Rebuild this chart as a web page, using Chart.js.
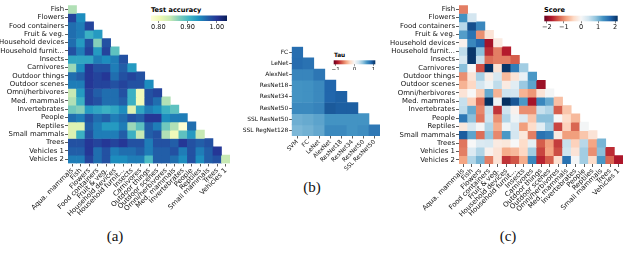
<!DOCTYPE html>
<html><head><meta charset="utf-8">
<script src="https://cdn.jsdelivr.net/npm/chart.js@4.4.1/dist/chart.umd.min.js"></script>
<style>
html,body{margin:0;padding:0;background:#fff}
body{width:640px;height:265px;position:relative;overflow:hidden;font-family:'DejaVu Sans',sans-serif}
canvas{position:absolute}
.cap{position:absolute;font-family:'Liberation Serif',serif;font-size:15px;color:#111;transform:translate(-50%,-50%);white-space:nowrap}
.cbt{position:absolute;font-family:'DejaVu Sans',sans-serif;font-weight:bold;color:#000;white-space:nowrap;line-height:1}
</style></head><body>
<div class="cap" style="left:115px;top:236px">(a)</div>
<div class="cap" style="left:312px;top:187px">(b)</div>
<div class="cap" style="left:508px;top:236px">(c)</div>
<div class="cbt" style="left:151px;top:6.5px;font-size:6.6px">Test accuracy</div>
<div class="cbt" style="left:334px;top:52.5px;font-size:5.8px">Tau</div>
<div class="cbt" style="left:544px;top:6.5px;font-size:6.6px">Score</div>
<script>
// ---------- categories ----------
const superclasses = ['Aqua. mammals','Fish','Flowers','Food containers','Fruit & veg.','Household devices','Household furnit...','Insects','Carnivores','Outdoor things','Outdoor scenes','Omni/herbivores','Med. mammals','Invertebrates','People','Reptiles','Small mammals','Trees','Vehicles 1','Vehicles 2'];
const pairCols = superclasses.slice(0, 19);
const pairRows = superclasses.slice(1);
const models = ['SVM','FC','LeNet','AlexNet','ResNet18','ResNet34','ResNet50','SSL ResNet50','SSL RegNet128'];
const modelCols = models.slice(0, 8);
const modelRows = models.slice(1);

// ---------- (a) test accuracy ----------
const accuracy = [
  [0.85],
  [0.99,0.94],
  [0.96,0.95,0.99],
  [0.96,0.95,0.91,0.93],
  [0.96,0.93,0.98,0.87,0.98],
  [0.98,0.95,0.99,0.93,0.99,0.89],
  [0.92,0.92,0.92,0.95,0.94,0.95,0.98],
  [0.86,0.94,1.00,0.98,0.98,0.95,0.97,0.93],
  [0.96,0.97,1.00,0.99,1.00,0.96,0.98,0.99,0.98],
  [0.95,0.95,1.00,0.99,0.99,0.98,0.99,0.98,0.98,0.94],
  [0.84,0.93,0.99,0.97,0.96,0.96,0.98,0.91,0.80,0.98,0.99],
  [0.85,0.91,0.99,0.98,0.96,0.96,0.97,0.91,0.80,0.98,0.96,0.85],
  [0.88,0.87,0.93,0.92,0.91,0.92,0.94,0.82,0.92,0.95,0.94,0.91,0.89],
  [0.96,0.95,0.98,0.96,0.97,0.95,0.96,0.98,0.97,1.00,1.00,0.94,0.95,0.95],
  [0.82,0.82,0.97,0.95,0.93,0.93,0.95,0.86,0.89,0.97,0.95,0.88,0.85,0.78,0.96],
  [0.82,0.91,0.98,0.95,0.95,0.95,0.97,0.91,0.84,0.97,0.98,0.85,0.80,0.89,0.93,0.84],
  [0.98,0.98,1.00,0.99,1.00,0.99,1.00,0.98,0.98,0.95,0.98,0.98,0.97,1.00,0.98,0.97,0.98],
  [0.97,0.97,1.00,0.96,0.98,0.95,0.96,0.96,0.97,0.95,0.97,0.97,0.98,0.95,0.98,0.95,0.97,1.00],
  [0.95,0.95,0.99,0.96,0.98,0.94,0.94,0.95,0.95,0.90,0.97,0.97,0.96,0.94,0.98,0.94,0.97,0.98,0.84]
];
const accRange = [0.775, 1.035];
const accTicks = [0.80, 0.90, 1.00];

// ---------- (b) Kendall tau ----------
const tau = [
  [0.84],
  [0.85,0.82],
  [0.73,0.73,0.80],
  [0.66,0.67,0.71,0.88],
  [0.66,0.67,0.71,0.88,0.90],
  [0.71,0.71,0.74,0.93,0.91,0.91],
  [0.54,0.56,0.59,0.66,0.66,0.66,0.66],
  [0.50,0.53,0.57,0.71,0.71,0.66,0.69,0.79]
];
const tauRange = [-1.1, 1.1];
const tauTicks = [-1, 0, 1];

// ---------- (c) score ----------
const score = [
  [-1.1],
  [1.3,0.4],
  [0.6,1.9,1.4],
  [1.2,1.6,-1.0,-0.3],
  [-0.1,1.4,1.7,-1.8,-0.2],
  [0.55,2.1,0.9,-1.6,-1.1,-1.7],
  [0.35,2.1,0.5,-1.2,-1.1,-1.1,-1.3],
  [0.9,0.0,-1.4,2.15,-0.3,2.1,1.5,0.75],
  [-1.0,-0.3,0.7,-0.15,0.35,-0.7,-0.3,0.15,1.25],
  [-0.75,-0.45,0.4,0.1,0.55,-0.2,0.25,0.8,1.15,-1.85],
  [-0.3,0.0,-0.55,1.1,-0.75,0.45,0.4,-0.75,-0.95,-0.3,0.05],
  [0.5,-0.5,-1.2,2.15,0.1,2.15,1.85,1.25,-1.8,1.4,1.1,-0.65],
  [0.55,1.1,-1.05,0.5,-1.55,0.45,-0.1,-1.0,-1.0,0.5,0.65,-1.3,-0.6],
  [1.55,0.9,-1.15,0.45,-1.0,0.65,0.1,0.3,-0.6,0.9,0.9,0.0,-0.4,-0.7],
  [-0.25,0.35,0.05,0.65,-0.8,0.1,0.35,-0.9,-0.4,0.25,0.75,-1.45,-0.5,-1.25,0.05],
  [1.8,1.15,-1.2,0.85,-1.05,1.25,0.4,-0.25,-1.1,1.6,1.5,-0.2,-0.9,-0.9,-0.6,-0.3],
  [-1.15,0.0,0.3,0.35,-0.2,-0.25,0.0,-0.4,0.2,-1.3,-0.9,-1.5,0.5,-0.5,0.6,-0.85,1.0],
  [-1.1,0.3,0.65,-0.1,-0.3,-0.8,-0.7,-0.45,0.75,-1.45,-0.85,-1.4,0.45,-0.3,0.75,-1.0,0.9,-1.6],
  [-0.85,0.65,1.0,-1.1,-0.3,-1.55,-1.35,-0.8,1.4,-1.65,-1.3,-0.35,1.6,0.05,0.75,-0.4,1.25,-1.25,-1.75]
];
const scoreRange = [-2.15, 2.15];
const scoreTicks = [-2, -1, 0, 1, 2];

// ---------- colormaps ----------
const YlGnBu = ['#ffffd9','#edf8b1','#c7e9b4','#7fcdbb','#41b6c4','#1d91c0','#225ea8','#253494','#081d58'];
const RdBu = ['#67001f','#b2182b','#d6604d','#f4a582','#fddbc7','#f7f7f7','#d1e5f0','#92c5de','#4393c3','#2166ac','#053061'];
function hexRgb(h){ return [parseInt(h.slice(1,3),16), parseInt(h.slice(3,5),16), parseInt(h.slice(5,7),16)]; }
function cmapColor(stops, t){
  t = Math.max(0, Math.min(1, t));
  const n = stops.length - 1;
  const i = Math.min(n - 1, Math.floor(t * n));
  const f = t * n - i;
  const a = hexRgb(stops[i]), b = hexRgb(stops[i + 1]);
  const c = a.map((v, k) => Math.round(v + (b[k] - v) * f));
  return `rgb(${c[0]},${c[1]},${c[2]})`;
}

Chart.defaults.font.family = "'DejaVu Sans', sans-serif";
Chart.defaults.color = '#111';

function makeCanvas(left, top, w, h){
  const c = document.createElement('canvas');
  c.width = w; c.height = h;
  c.style.left = left + 'px'; c.style.top = top + 'px';
  c.style.width = w + 'px'; c.style.height = h + 'px';
  document.body.appendChild(c);
  return c;
}

function heatmap(box, cols, rows, values, cmap, range, o){
  const cv = makeCanvas(box[0], box[1], box[2], box[3]);
  const datasets = rows.map((r, i) => ({
    label: r,
    data: cols.map((c, j) => j < values[i].length ? [i - 0.5, i + 0.5] : null),
    backgroundColor: cols.map((c, j) => j < values[i].length ? cmapColor(cmap, (values[i][j] - range[0]) / (range[1] - range[0])) : 'rgba(0,0,0,0)'),
    borderWidth: 0,
    borderSkipped: false,
    barPercentage: 1,
    categoryPercentage: 1,
    grouped: false
  }));
  new Chart(cv, {
    type: 'bar',
    data: { labels: cols, datasets },
    options: {
      responsive: false, animation: false, devicePixelRatio: 1,
      layout: { padding: o.pad },
      plugins: { legend: { display: false }, tooltip: { enabled: false } },
      scales: {
        x: {
          type: 'category', offset: true,
          afterFit: s => { s.height = o.xh; },
          ticks: { autoSkip: false, minRotation: 45, maxRotation: 45, padding: 0, font: { size: o.fs }, color: '#111' },
          grid: { offset: false, drawOnChartArea: false, drawTicks: true, tickLength: o.tl, color: '#333', lineWidth: 0.8 },
          border: { display: false }
        },
        y: {
          type: 'linear', reverse: true, min: -0.5, max: rows.length - 0.5,
          afterBuildTicks: s => { s.ticks = rows.map((r, i) => ({ value: i })); },
          afterFit: s => { s.width = o.yw; },
          ticks: { autoSkip: false, padding: 1, font: { size: o.fs }, color: '#111', callback: v => rows[v] },
          grid: { drawOnChartArea: false, drawTicks: true, tickLength: o.tl, color: '#333', lineWidth: 0.8 },
          border: { display: false }
        }
      }
    }
  });
}

function colorbar(box, cmap, range, ticks, fmt, o){
  const cv = makeCanvas(box[0], box[1], box[2], box[3]);
  new Chart(cv, {
    type: 'scatter',
    data: { datasets: [{ data: [] }] },
    options: {
      responsive: false, animation: false, devicePixelRatio: 1,
      layout: { padding: o.pad },
      plugins: { legend: { display: false }, tooltip: { enabled: false } },
      scales: {
        x: {
          type: 'linear', min: range[0], max: range[1],
          afterBuildTicks: s => { s.ticks = ticks.map(v => ({ value: v })); },
          afterFit: s => { s.height = o.xh; },
          ticks: { padding: 0, font: { size: o.fs }, color: '#111', callback: fmt },
          grid: { drawOnChartArea: false, drawTicks: true, tickLength: o.tl, color: '#333', lineWidth: 0.6 },
          border: { display: false }
        },
        y: { display: false, min: 0, max: 1 }
      }
    },
    plugins: [{
      id: 'gradientBar',
      beforeDatasetsDraw(chart){
        const a = chart.chartArea, ctx = chart.ctx;
        const g = ctx.createLinearGradient(a.left, 0, a.right, 0);
        cmap.forEach((c, i) => g.addColorStop(i / (cmap.length - 1), c));
        ctx.save(); ctx.fillStyle = g; ctx.fillRect(a.left, a.top, a.right - a.left, a.bottom - a.top); ctx.restore();
      }
    }]
  });
}

const minus = v => (v < 0 ? '\u2212' + Math.abs(v) : String(v));

heatmap([0, 0, 232, 232], pairCols, pairRows, accuracy, YlGnBu, accRange,
  { pad: { top: 0.5, right: 2, left: 0, bottom: 0 }, xh: 68.5, yw: 68, fs: 6.9, tl: 3 });
heatmap([240, 40, 140, 132], modelCols, modelRows, tau, RdBu, tauRange,
  { pad: { top: 6.7, right: 0, left: 0, bottom: 0 }, xh: 36, yw: 51.7, fs: 5.9, tl: 2.5 });
heatmap([384, 0, 241, 232], pairCols, pairRows, score, RdBu, scoreRange,
  { pad: { top: 0.5, right: 2, left: 0, bottom: 0 }, xh: 68, yw: 75, fs: 6.9, tl: 3 });

colorbar([140, 10, 100, 22], YlGnBu, accRange, accTicks, v => v.toFixed(2),
  { pad: { left: 11, right: 13, top: 5.5, bottom: 0 }, xh: 11, fs: 6.6, tl: 2 });
colorbar([325, 50, 60, 20], RdBu, tauRange, tauTicks, minus,
  { pad: { left: 8.7, right: 9.7, top: 10.3, bottom: 0 }, xh: 5.7, fs: 5.6, tl: 1.5 });
colorbar([535, 10, 95, 22], RdBu, scoreRange, scoreTicks, minus,
  { pad: { left: 9.3, right: 12.3, top: 5.7, bottom: 0 }, xh: 10.7, fs: 6.6, tl: 2 });
</script>
</body></html>
